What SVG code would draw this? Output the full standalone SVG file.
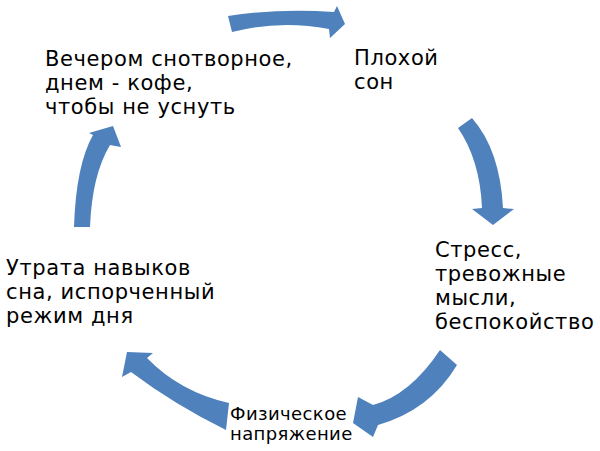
<svg xmlns="http://www.w3.org/2000/svg" width="600" height="451" viewBox="0 0 600 451">
  <style>
    .lbl { font-family: "DejaVu Sans", "Noto Sans", sans-serif; font-size: 21px; letter-spacing: 0.6px; fill: #000; }
    .sm { font-size: 18px; letter-spacing: 0.4px; }
    .arr { fill: #4F81BD; stroke: none; }
  </style>
  <rect width="600" height="451" fill="#fff"/>
  <g id="connectors">
    <path class="arr" d="M228,16 Q280,8 334,12 L337,6 L345,24 L330,38 L329,29 Q280,19.5 232,32 Z"/>
    <path class="arr" d="M458,128 Q480,160 482,208 L472,209 L493,225 L514,209 L503,208 Q500,150 472,118 Z"/>
    <path class="arr" d="M440,350 Q410,395 373,405 L358,397 L353,423 L373,437 L378,425 Q430,410 457,365 Z"/>
    <path class="arr" d="M229,403 Q180,392 147,358 L153,353 L127,352 L122,377 L131,372 Q175,405 226,430 Z"/>
    <path class="arr" d="M74,227 Q76,165 93,135 L89,133 L113,126 L121,147 L110,145 Q92,175 90,227 Z"/>
  </g>
  <g id="node-evening">
    <text class="lbl" x="45" y="66">Вечером снотворное,</text>
    <text class="lbl" x="45" y="90">днем - кофе,</text>
    <text class="lbl" x="45" y="114">чтобы не уснуть</text>
  </g>
  <g id="node-badsleep">
    <text class="lbl" x="354" y="65">Плохой</text>
    <text class="lbl" x="354" y="89">сон</text>
  </g>
  <g id="node-stress">
    <text class="lbl" x="435" y="257">Стресс,</text>
    <text class="lbl" x="435" y="281">тревожные</text>
    <text class="lbl" x="435" y="305">мысли,</text>
    <text class="lbl" x="435" y="329">беспокойство</text>
  </g>
  <g id="node-tension">
    <text class="lbl sm" x="230" y="420">Физическое</text>
    <text class="lbl sm" x="230" y="440">напряжение</text>
  </g>
  <g id="node-loss">
    <text class="lbl" x="6" y="275">Утрата навыков</text>
    <text class="lbl" x="6" y="299">сна, испорченный</text>
    <text class="lbl" x="6" y="323">режим дня</text>
  </g>
</svg>
